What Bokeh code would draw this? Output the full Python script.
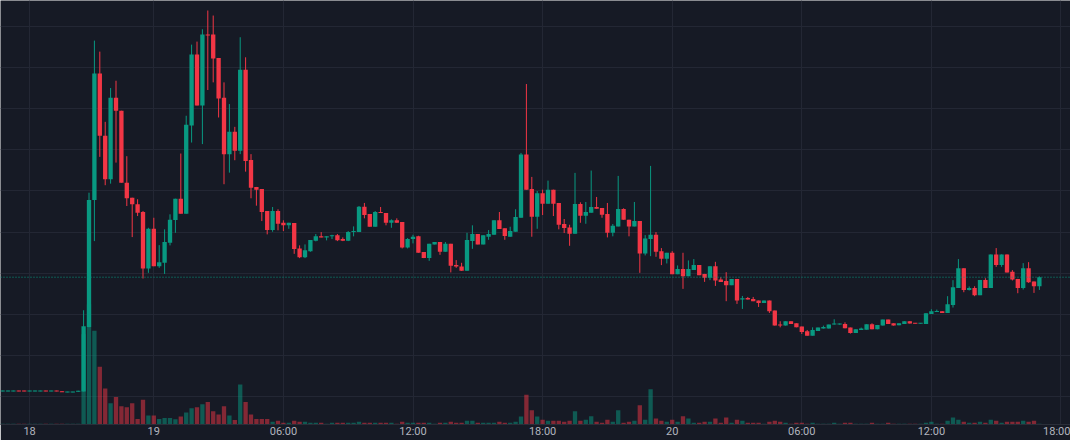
from bokeh.plotting import figure
from bokeh.models import Range1d, FixedTicker, Span
from bokeh.embed import file_html
from bokeh.resources import INLINE

# 15-minute candles, index 0 = first candle of day 19
idx = list(range(-28, 165))

opens = [
    5.63, 5.63, 5.63, 5.70, 5.70, 5.63, 5.63, 5.63, 5.70, 5.63, 5.70, 5.63, 5.51, 5.51, 5.57,
    5.61, 13.45, 28.90, 44.30, 36.71, 31.43, 41.34, 39.76, 31.01, 29.18, 28.38, 27.44, 20.57,
    25.40, 20.85, 21.26, 23.70, 26.46, 29.06, 27.23, 37.96, 46.59, 40.40,
    49.02, 49.02, 46.18, 41.34, 34.48, 37.20, 34.88, 44.76, 33.78, 30.49,
    30.24, 27.56, 25.24, 27.56, 26.13, 25.82, 26.10, 23.01, 21.95, 22.68,
    23.94, 24.48, 24.35, 24.48, 24.60, 24.15, 23.94, 25.00, 25.00, 28.09,
    27.20, 25.65, 27.44, 27.32, 26.13, 26.43, 26.22, 23.13, 24.15, 24.48,
    22.56, 21.83, 23.50, 23.78, 22.60, 23.57, 20.98, 20.82, 20.28, 23.90,
    24.76, 23.50, 24.43, 24.67, 26.43, 25.45, 24.43, 25.04, 26.74, 34.43,
    30.24, 26.87, 29.72, 28.45, 30.16, 28.54, 25.98, 25.57, 24.79, 28.41,
    26.99, 27.35, 28.05, 27.93, 27.20, 24.91, 25.69, 27.80, 26.50, 25.69,
    26.34, 22.40, 24.15, 24.67, 22.68, 21.74, 22.48, 19.88, 20.52, 19.63,
    20.40, 20.98, 19.91, 19.43, 20.85, 19.23, 19.06, 18.54, 19.30, 16.79,
    16.99, 16.87, 16.67, 16.38, 16.67, 15.45, 13.74, 13.62, 14.15, 13.90,
    13.50, 12.93, 12.40, 12.96, 13.26, 13.26, 13.74, 13.74, 13.82, 13.38,
    12.72, 13.09, 13.13, 13.78, 13.17, 13.62, 14.35, 13.90, 13.66, 13.82,
    14.15, 13.94, 13.87, 13.82, 15.04, 15.28, 15.37, 15.16, 16.13, 18.21,
    20.61, 17.96, 18.21, 17.32, 19.18, 18.21, 22.28, 20.98, 22.28, 20.16,
    19.30, 18.21, 20.61, 18.99, 18.41,
]

highs = [
    5.70, 5.70, 5.70, 5.70, 5.70, 5.70, 5.70, 5.70, 5.70, 5.70, 5.70, 5.63, 5.57, 5.57, 5.70,
    15.49, 29.79, 48.29, 46.95, 38.41, 42.52, 43.41, 39.76, 34.23, 29.18, 28.99, 27.56, 25.52,
    26.74, 23.41, 25.33, 27.16, 29.06, 34.55, 39.15, 47.80, 48.17, 49.67,
    51.95, 51.34, 46.18, 43.21, 40.57, 37.80, 48.70, 46.26, 34.48, 30.49,
    30.24, 27.56, 28.05, 27.77, 26.43, 26.13, 26.10, 23.38, 23.50, 24.02,
    24.76, 25.00, 24.48, 24.67, 24.76, 24.35, 25.12, 25.69, 28.17, 28.54,
    27.20, 27.56, 28.05, 27.32, 26.55, 26.67, 26.22, 24.27, 24.67, 24.55,
    22.56, 23.57, 23.78, 23.78, 23.78, 23.57, 21.59, 21.26, 24.91, 25.82,
    24.76, 24.60, 25.24, 26.43, 27.44, 25.45, 25.65, 27.77, 34.63, 43.01,
    31.71, 30.00, 30.16, 31.26, 30.16, 28.54, 26.59, 25.89, 32.20, 28.62,
    28.66, 32.48, 29.27, 27.93, 28.54, 25.98, 31.83, 27.89, 26.50, 28.66,
    26.34, 24.63, 33.05, 25.00, 23.05, 22.48, 22.68, 20.94, 22.48, 21.55,
    21.71, 20.98, 19.91, 20.85, 21.38, 19.51, 20.12, 19.30, 19.30, 17.23,
    17.11, 17.11, 16.67, 16.67, 16.67, 15.45, 14.15, 14.15, 14.15, 13.90,
    13.50, 13.09, 13.41, 13.38, 13.62, 13.74, 14.39, 13.87, 14.02, 13.38,
    13.17, 13.38, 13.78, 13.90, 13.70, 14.35, 14.35, 13.90, 13.90, 14.15,
    14.15, 13.94, 13.94, 15.12, 15.61, 15.57, 15.37, 17.20, 19.15, 21.71,
    20.61, 18.38, 18.41, 19.18, 19.39, 22.28, 23.05, 22.28, 22.28, 20.37,
    19.30, 21.22, 21.34, 18.99, 19.60,
]

lows = [
    5.63, 5.63, 5.63, 5.63, 5.63, 5.63, 5.63, 5.63, 5.63, 5.63, 5.63, 5.54, 5.51, 5.51, 5.57,
    5.61, 13.41, 23.90, 34.15, 30.70, 30.89, 33.45, 31.01, 28.17, 24.39, 26.95, 19.35, 20.04,
    20.85, 20.65, 19.91, 23.38, 24.91, 27.23, 27.23, 35.89, 40.40, 35.70,
    42.28, 43.21, 38.94, 30.82, 32.23, 33.74, 34.48, 32.35, 29.11, 28.21,
    26.34, 24.72, 25.04, 25.21, 25.12, 25.40, 22.35, 21.83, 21.83, 22.60,
    23.87, 24.35, 23.99, 24.15, 23.90, 23.90, 23.90, 24.48, 25.00, 26.67,
    25.65, 25.65, 27.32, 25.82, 25.52, 26.13, 23.01, 23.01, 23.62, 22.48,
    21.83, 21.50, 23.50, 22.23, 22.60, 20.09, 20.65, 20.28, 20.28, 22.96,
    23.50, 23.50, 24.06, 24.67, 25.37, 24.06, 24.43, 25.04, 26.74, 30.16,
    24.43, 25.40, 27.07, 28.45, 26.95, 25.33, 24.88, 23.33, 24.79, 26.13,
    26.01, 27.35, 27.84, 26.74, 24.35, 24.48, 25.69, 26.50, 24.48, 25.69,
    20.04, 22.16, 22.07, 21.99, 20.98, 21.18, 19.88, 19.88, 18.09, 19.63,
    20.40, 19.76, 18.94, 19.15, 18.45, 18.94, 16.59, 18.54, 16.26, 15.65,
    16.79, 16.59, 15.89, 16.38, 15.16, 13.62, 13.41, 13.62, 13.82, 13.41,
    12.60, 12.40, 12.40, 12.96, 13.26, 13.26, 13.74, 13.74, 13.29, 12.65,
    12.72, 13.09, 13.13, 13.17, 13.17, 13.62, 13.82, 13.62, 13.66, 13.82,
    13.87, 13.87, 13.87, 13.82, 15.04, 15.28, 15.16, 15.16, 15.82, 18.21,
    17.68, 17.89, 17.20, 17.32, 18.21, 18.21, 20.77, 20.77, 20.09, 19.11,
    17.56, 18.01, 18.82, 17.60, 17.96,
]

closes = [
    5.70, 5.70, 5.70, 5.63, 5.63, 5.70, 5.70, 5.70, 5.63, 5.70, 5.63, 5.54, 5.57, 5.57, 5.70,
    13.54, 28.90, 44.30, 36.71, 31.43, 41.34, 39.76, 31.01, 29.11, 28.38, 27.35, 20.57, 25.40,
    20.85, 21.34, 23.78, 26.50, 29.06, 27.23, 38.05, 46.59, 40.40, 49.02,
    48.94, 46.10, 41.26, 34.48, 37.20, 34.88, 44.76, 33.66, 30.40, 30.16,
    27.44, 25.24, 27.56, 26.01, 25.82, 26.13, 22.93, 21.95, 22.80, 24.02,
    24.48, 24.35, 24.48, 24.60, 23.99, 23.94, 25.00, 25.12, 28.09, 27.07,
    25.65, 27.44, 27.32, 26.13, 26.43, 26.13, 23.13, 24.15, 24.43, 22.48,
    21.83, 23.57, 23.78, 22.60, 23.57, 20.89, 20.82, 20.28, 24.02, 24.76,
    23.50, 24.60, 24.76, 26.43, 25.37, 24.51, 25.12, 26.83, 34.43, 30.16,
    26.87, 29.72, 28.45, 30.16, 28.45, 25.89, 25.49, 24.79, 28.41, 26.99,
    27.44, 28.05, 27.84, 27.11, 24.91, 25.77, 27.80, 26.50, 25.69, 26.34,
    22.40, 24.23, 24.67, 22.60, 21.74, 22.48, 19.88, 20.52, 19.63, 20.52,
    20.98, 19.76, 19.43, 20.85, 19.11, 18.94, 18.54, 19.30, 16.67, 16.95,
    16.79, 16.59, 16.38, 16.67, 15.37, 13.62, 13.62, 14.15, 13.82, 13.41,
    12.84, 12.40, 13.09, 13.38, 13.45, 13.74, 13.87, 13.87, 13.29, 12.72,
    13.17, 13.26, 13.78, 13.17, 13.70, 14.35, 13.82, 13.62, 13.90, 14.15,
    13.87, 13.87, 13.94, 15.12, 15.37, 15.37, 15.16, 16.22, 18.29, 20.61,
    17.96, 18.21, 17.32, 19.18, 18.21, 22.28, 20.98, 22.28, 20.09, 19.23,
    18.21, 20.61, 18.90, 18.41, 19.51,
]

volumes = [
    0.8, 0.8, 0.8, 0.8, 0.8, 0.8, 0.8, 0.8, 0.8, 0.8, 0.8, 0.8, 0.8, 0.8, 0.8,
    90.0, 120.0, 93.5, 57.5, 35.8, 21.3, 27.5, 18.3, 17.2, 21.3, 5.5, 24.8, 9.0,
    9.0, 5.5, 6.5, 6.5, 5.2, 7.9, 12.0, 16.2, 17.2, 20.3,
    22.4, 13.1, 10.0, 18.3, 9.0, 4.5, 40.0, 22.4, 10.0, 5.5,
    5.5, 5.5, 2.8, 3.8, 1.7, 1.7, 3.8, 2.8, 2.8, 1.7,
    1.7, 1.7, 0.7, 1.7, 1.7, 1.7, 1.7, 1.7, 2.8, 1.7,
    1.7, 1.7, 1.7, 1.7, 1.7, 0.7, 2.8, 1.7, 1.7, 1.7,
    1.7, 1.7, 0.7, 1.7, 1.7, 2.8, 1.7, 1.7, 3.8, 3.8,
    1.7, 1.7, 1.7, 1.7, 2.8, 1.7, 1.7, 2.8, 7.9, 29.6,
    14.1, 7.9, 4.8, 3.8, 3.8, 3.8, 2.8, 3.8, 13.1, 3.8,
    4.8, 8.3, 2.8, 1.7, 4.8, 2.8, 14.1, 1.7, 2.8, 3.8,
    19.3, 4.8, 35.1, 5.9, 3.8, 2.8, 4.8, 2.8, 8.3, 5.9,
    1.7, 1.7, 2.8, 2.8, 5.9, 1.7, 6.9, 1.7, 4.8, 3.8,
    1.7, 1.7, 1.7, 0.7, 2.8, 3.8, 2.8, 1.7, 0.7, 1.7,
    1.7, 0.7, 1.7, 0.7, 0.7, 0.7, 1.7, 0.7, 1.7, 1.7,
    0.7, 0.7, 0.7, 1.7, 0.7, 0.7, 1.7, 0.7, 0.7, 0.7,
    0.7, 0.7, 0.7, 1.7, 2.8, 0.7, 0.7, 3.8, 6.9, 4.8,
    2.8, 1.7, 1.7, 2.8, 1.7, 4.8, 3.8, 1.7, 2.8, 2.8,
    2.8, 3.8, 2.8, 3.8, 0.7,
]

tick_idx = [-23, 0, 24, 48, 72, 96, 120, 144, 168]
tick_labels = ["18", "19", "06:00", "12:00", "18:00", "20", "06:00", "12:00", "18:00"]
price_grid = [5, 10, 15, 20, 25, 30, 35, 40, 45, 50]

BG = "#161a25"
GRID = "#232734"
UP = "#089981"
DOWN = "#f23645"

up = [c >= o for o, c in zip(opens, closes)]
colors = [UP if u else DOWN for u in up]
min_body = 0.12
body_top, body_bot = [], []
for o, c in zip(opens, closes):
    t, b = max(o, c), min(o, c)
    if t - b < min_body:
        m = (t + b) / 2
        t, b = m + min_body / 2, m - min_body / 2
    body_top.append(t)
    body_bot.append(b)

p = figure(width=1070, height=440, output_backend="svg", toolbar_location=None,
           x_range=Range1d(-28.39, 169.76), y_range=Range1d(1.59, 53.17),
           y_axis_location=None, background_fill_color=BG, border_fill_color=BG,
           outline_line_color=None, min_border_left=0, min_border_right=0,
           min_border_top=0, min_border_bottom=0)
p.extra_y_ranges = {"vol": Range1d(0, 423)}

p.xaxis.ticker = FixedTicker(ticks=tick_idx)
p.xaxis.major_label_overrides = {t: l for t, l in zip(tick_idx, tick_labels)}
p.xaxis.major_tick_line_color = None
p.xaxis.minor_tick_line_color = None
p.xaxis.major_tick_out = 0
p.xaxis.major_tick_in = 0
p.xaxis.major_label_standoff = 0
p.xaxis.axis_line_color = "#2a2e39"
p.xaxis.major_label_text_color = "#b2b5be"
p.xaxis.major_label_text_font = "Roboto"
p.xaxis.major_label_text_font_size = "11px"

p.xgrid.ticker = FixedTicker(ticks=tick_idx)
p.ygrid.ticker = FixedTicker(ticks=price_grid)
p.xgrid.grid_line_color = GRID
p.ygrid.grid_line_color = GRID

p.vbar(x=idx, top=volumes, bottom=0, width=0.8, y_range_name="vol",
       fill_color=colors, fill_alpha=0.5, line_color=None)
p.segment(x0=idx, y0=highs, x1=idx, y1=lows, line_color=colors, line_width=1)
p.vbar(x=idx, top=body_top, bottom=body_bot, width=0.8, fill_color=colors, line_color=None)

p.add_layout(Span(location=closes[-1], dimension="width", line_color=UP,
                  line_dash="1 2", line_width=1))

open("out.html", "w").write(file_html(p, INLINE))
